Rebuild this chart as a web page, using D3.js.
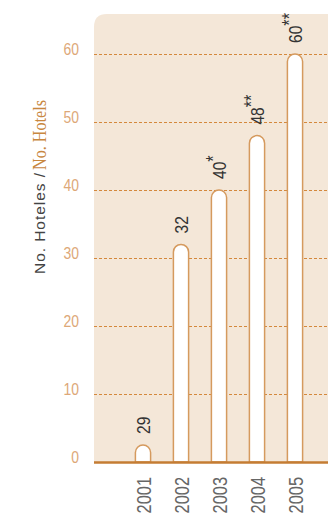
<!DOCTYPE html>
<html>
<head>
<meta charset="utf-8">
<script src="https://cdn.jsdelivr.net/npm/d3@7"></script>
<style>
  body { margin: 0; background: #fff; }
  svg { display: block; }
</style>
</head>
<body>
<svg width="328" height="518" font-family="Liberation Sans, Arial, sans-serif"></svg>
<script>
// values as drawn (the 2001 bar is drawn short in the original though labelled 29)
const years = ['2001', '2002', '2003', '2004', '2005'];
const barValues = [2.5, 32, 40, 48, 60];
const valueLabels = ['29', '32', '40', '48', '60'];
const labelMarks = ['', '', '*', '**', '**'];
const yTicks = [0, 10, 20, 30, 40, 50, 60];

const svg = d3.select('svg');

const panelLeft = 94, panelRight = 328, panelTop = 14, baseY = 462;
const narrow = 0.82; // squeeze Liberation Sans to a narrow face

// background panel, rounded top-left corner
const r = 13;
svg.append('path')
  .attr('d', `M${panelLeft},${baseY} L${panelLeft},${panelTop + r} Q${panelLeft},${panelTop} ${panelLeft + r},${panelTop} L${panelRight},${panelTop} L${panelRight},${baseY} Z`)
  .attr('fill', '#f4e7d8');

const y = d3.scaleLinear()
  .domain([0, 60])
  .range([baseY, 54]);

const x = d3.scaleBand()
  .domain(years)
  .range([124, 314])
  .paddingInner(0.6)
  .paddingOuter(0.3);

// dashed grid
const grid = svg.append('g')
  .attr('transform', `translate(${panelLeft},0)`)
  .call(d3.axisLeft(y)
    .tickValues(yTicks.slice(1))
    .tickSize(-(panelRight - panelLeft))
    .tickFormat(''));
grid.select('.domain').remove();
grid.selectAll('line')
  .attr('stroke', '#d4883c')
  .attr('stroke-width', 1)
  .attr('stroke-dasharray', '3,2');

// tick labels
svg.append('g')
  .selectAll('text')
  .data(yTicks)
  .join('text')
  .attr('transform', d => `translate(79,${y(d) + 1}) scale(${narrow},1)`)
  .attr('text-anchor', 'end')
  .attr('font-size', 17)
  .attr('fill', '#dda878')
  .text(d => d);

// bars with rounded tops
const bw = x.bandwidth();
const barPath = (d, i) => {
  const x0 = x(years[i]), x1 = x0 + bw, rr = bw / 2;
  const yt = y(d);
  return `M${x0},${baseY} L${x0},${yt + rr} A${rr},${rr} 0 0 1 ${x1},${yt + rr} L${x1},${baseY} Z`;
};
svg.append('g')
  .selectAll('path')
  .data(barValues)
  .join('path')
  .attr('d', barPath)
  .attr('fill', '#fff')
  .attr('stroke', '#d59a5e')
  .attr('stroke-width', 1.5);

// base line
svg.append('line')
  .attr('x1', panelLeft).attr('x2', panelRight)
  .attr('y1', baseY + 0.5).attr('y2', baseY + 0.5)
  .attr('stroke', '#c47c33')
  .attr('stroke-width', 2.5);

// value labels
const vl = svg.append('g')
  .selectAll('text')
  .data(barValues)
  .join('text')
  .attr('transform', (d, i) => `translate(${x(years[i]) + bw / 2 + 7},${y(d) - 11}) rotate(-90) scale(${narrow},1)`)
  .attr('font-size', 19)
  .attr('fill', '#333');
vl.append('tspan').text((d, i) => valueLabels[i]);
vl.append('tspan')
  .attr('dy', '-0.3em')
  .attr('font-size', 20)
  .text((d, i) => labelMarks[i]);

// year labels
svg.append('g')
  .selectAll('text')
  .data(years)
  .join('text')
  .attr('transform', d => `translate(${x(d) + bw / 2 + 7.5},477) rotate(-90) scale(${narrow},1)`)
  .attr('text-anchor', 'end')
  .attr('font-size', 20)
  .attr('fill', '#666')
  .text(d => d);

// axis title, two parts
svg.append('text')
  .attr('transform', 'translate(44.5,274) rotate(-90)')
  .attr('font-size', 15.5)
  .attr('textLength', 101)
  .attr('lengthAdjust', 'spacing')
  .attr('fill', '#444')
  .text('No. Hoteles /');
svg.append('text')
  .attr('transform', 'translate(45.5,170) rotate(-90)')
  .style('font-family', '"Liberation Serif", "DejaVu Serif", serif')
  .attr('font-size', 19)
  .attr('textLength', 70)
  .attr('lengthAdjust', 'spacingAndGlyphs')
  .attr('fill', '#c8873f')
  .text('No. Hotels');
</script>
</body>
</html>
